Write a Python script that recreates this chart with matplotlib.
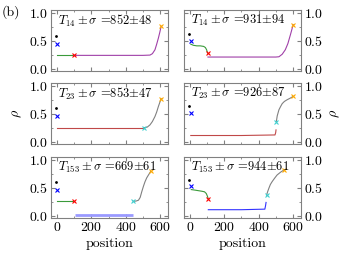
import matplotlib
matplotlib.use("Agg")
import matplotlib.pyplot as plt
from matplotlib.ticker import MultipleLocator

plt.rcParams["font.family"] = "serif"
plt.rcParams["font.serif"] = ["cmr10", "DejaVu Serif"]
plt.rcParams["mathtext.fontset"] = "cm"
plt.rcParams["axes.formatter.use_mathtext"] = True
plt.rcParams["font.size"] = 10

# panel labels
titles = [
    [r"$T_{14}\pm\sigma$ =852$\pm$48", r"$T_{14}\pm\sigma$ =931$\pm$94"],
    [r"$T_{23}\pm\sigma$ =853$\pm$47", r"$T_{23}\pm\sigma$ =926$\pm$87"],
    [r"$T_{153}\pm\sigma$ =669$\pm$61", r"$T_{153}\pm\sigma$ =944$\pm$61"],
]

# start markers (black dot, blue x)
dot_x = [[-4, -8], [-4, -6], [-4, -6]]
dot_y = [[0.58, 0.63], [0.60, 0.64], [0.60, 0.65]]
bx_x = [[2, 4], [2, 4], [2, 4]]
bx_y = [[0.44, 0.50], [0.45, 0.52], [0.46, 0.53]]

# top-left
tl_green_x = [2, 100]
tl_green_y = [0.24, 0.24]
tl_red = (100, 0.24)
tl_purple_x = [100, 300, 500, 541, 555, 570, 580, 590, 598, 606]
tl_purple_y = [0.24, 0.24, 0.24, 0.245, 0.27, 0.34, 0.44, 0.55, 0.65, 0.76]
tl_orange = (606, 0.76)

# top-right
tr_green_x = [5, 20, 40, 60, 80, 90, 97, 103]
tr_green_y = [0.44, 0.42, 0.41, 0.41, 0.40, 0.38, 0.34, 0.28]
tr_red = (105, 0.28)
tr_purple_x = [105, 300, 500, 518, 537, 555, 570, 585, 601]
tr_purple_y = [0.21, 0.21, 0.21, 0.215, 0.26, 0.34, 0.45, 0.61, 0.79]
tr_orange = (601, 0.79)

# middle-left
ml_red_x = [2, 507]
ml_red_y = [0.25, 0.25]
ml_cyan = (507, 0.25)
ml_gray_x = [507, 525, 541, 555, 570, 580, 590, 598, 606]
ml_gray_y = [0.25, 0.26, 0.30, 0.36, 0.45, 0.53, 0.63, 0.70, 0.77]
ml_orange = (606, 0.77)

# middle-right
mr_red_x = [5, 300, 495, 499, 501]
mr_red_y = [0.11, 0.11, 0.12, 0.16, 0.21]
mr_cyan = (503, 0.36)
mr_gray_x = [503, 508, 518, 528, 537, 550, 566, 585, 601]
mr_gray_y = [0.36, 0.46, 0.57, 0.63, 0.68, 0.72, 0.75, 0.78, 0.81]
mr_orange = (601, 0.81)

# bottom-left
bl_green_x = [2, 100]
bl_green_y = [0.26, 0.26]
bl_red = (100, 0.26)
bl_blue_x = [105, 444]
bl_blue_y = [0.02, 0.02]
bl_cyan = (444, 0.26)
bl_gray_x = [444, 460, 474, 484, 493, 503, 512, 522, 532, 546]
bl_gray_y = [0.26, 0.265, 0.28, 0.33, 0.43, 0.53, 0.61, 0.68, 0.73, 0.80]
bl_orange = (546, 0.80)

# bottom-right
br_green_x = [8, 30, 50, 70, 85, 95, 102, 106]
br_green_y = [0.47, 0.46, 0.45, 0.44, 0.43, 0.40, 0.35, 0.31]
br_red = (107, 0.31)
br_blue_x = [107, 300, 436, 440, 443]
br_blue_y = [0.11, 0.11, 0.12, 0.18, 0.24]
br_cyan = (446, 0.37)
br_gray_x = [446, 452, 459, 468, 478, 492, 507, 527, 547]
br_gray_y = [0.37, 0.43, 0.49, 0.56, 0.61, 0.67, 0.73, 0.78, 0.82]
br_orange = (547, 0.82)

GREEN = "#3a9a3a"
PURPLE = "#a040a8"
DRED = "#c04848"
CYAN = "#40d0d0"
ORANGE = "#ffaa00"
LW = 0.8

fig = plt.figure(figsize=(3.53, 2.65), dpi=100)
lefts = [0.1445, 0.521]
bottoms = [0.732, 0.457, 0.177]
axes = [[fig.add_axes([l, b, 0.331, 0.230]) for l in lefts] for b in bottoms]


def mark(ax, p, c):
    ax.plot([p[0]], [p[1]], "x", color=c, ms=2.5, mew=0.8)


for r in range(3):
    for c in range(2):
        ax = axes[r][c]
        ax.plot([dot_x[r][c]], [dot_y[r][c]], ".", color="black", ms=2)
        mark(ax, (bx_x[r][c], bx_y[r][c]), "blue")

tl, tr = axes[0]
tl.plot(tl_green_x, tl_green_y, color=GREEN, lw=LW)
tl.plot(tl_purple_x, tl_purple_y, color=PURPLE, lw=LW)
mark(tl, tl_red, "red")
mark(tl, tl_orange, ORANGE)
tr.plot(tr_green_x, tr_green_y, color=GREEN, lw=LW)
tr.plot(tr_purple_x, tr_purple_y, color=PURPLE, lw=LW)
mark(tr, tr_red, "red")
mark(tr, tr_orange, ORANGE)

ml, mr = axes[1]
ml.plot(ml_red_x, ml_red_y, color=DRED, lw=LW)
ml.plot(ml_gray_x, ml_gray_y, color="gray", lw=LW)
mark(ml, ml_cyan, CYAN)
mark(ml, ml_orange, ORANGE)
mr.plot(mr_red_x, mr_red_y, color=DRED, lw=LW)
mr.plot(mr_gray_x, mr_gray_y, color="gray", lw=LW)
mark(mr, mr_cyan, CYAN)
mark(mr, mr_orange, ORANGE)

bl, br = axes[2]
bl.plot(bl_green_x, bl_green_y, color=GREEN, lw=LW)
bl.plot(bl_blue_x, bl_blue_y, color="#9a9aff", lw=2, solid_capstyle="butt")
bl.plot(bl_gray_x, bl_gray_y, color="gray", lw=LW)
mark(bl, bl_red, "red")
mark(bl, bl_cyan, CYAN)
mark(bl, bl_orange, ORANGE)
br.plot(br_green_x, br_green_y, color=GREEN, lw=LW)
br.plot(br_blue_x, br_blue_y, color="#3333ff", lw=LW)
br.plot(br_gray_x, br_gray_y, color="gray", lw=LW)
mark(br, br_red, "red")
mark(br, br_cyan, CYAN)
mark(br, br_orange, ORANGE)

for r in range(3):
    for c in range(2):
        ax = axes[r][c]
        ax.set_xlim(-35, 645)
        ax.set_ylim(-0.04, 1.05)
        ax.xaxis.set_major_locator(MultipleLocator(200))
        ax.xaxis.set_minor_locator(MultipleLocator(100))
        ax.yaxis.set_major_locator(MultipleLocator(0.5))
        ax.yaxis.set_minor_locator(MultipleLocator(0.25))
        ax.tick_params(which="both", direction="in", top=True, right=True,
                       left=True, bottom=True, color="gray")
        ax.tick_params(which="major", length=3, pad=2)
        ax.tick_params(which="minor", length=1.5)
        for s in ax.spines.values():
            s.set_color("gray")
        ax.text(0.06, 0.96, titles[r][c], transform=ax.transAxes,
                ha="left", va="top", fontsize=9)
        if r < 2:
            ax.tick_params(labelbottom=False)
        else:
            ax.set_xlabel("position", labelpad=3)
        if c == 1:
            ax.tick_params(labelleft=False, labelright=True)
            ax.yaxis.set_label_position("right")

axes[1][0].set_ylabel(r"$\rho$")
axes[1][1].set_ylabel(r"$\rho$")
fig.text(0.005, 0.955, "(b)", ha="left", va="center")

fig.savefig("out.png", dpi=100)
